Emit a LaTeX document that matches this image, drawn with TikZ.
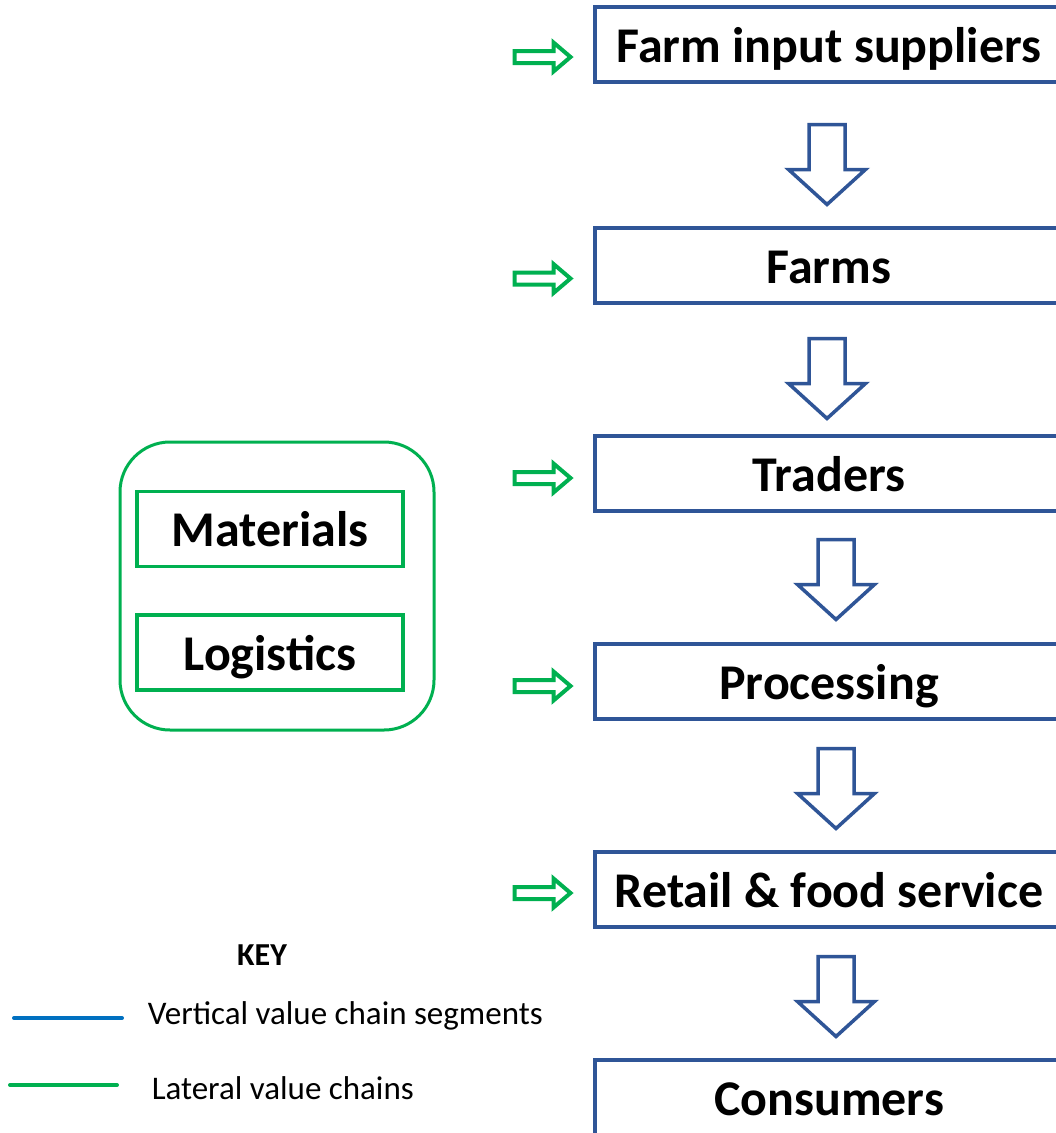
\documentclass[tikz,border=0pt]{standalone}
\usepackage{fontspec}
\setmainfont{Carlito}
\usepackage{tikz}
\definecolor{chainblue}{RGB}{47,85,151}
\definecolor{keyblue}{RGB}{0,112,192}
\definecolor{lateralgreen}{RGB}{0,176,80}

\begin{document}
\begin{tikzpicture}
            [x=1pt,y=-1pt,line width=3.5pt,
             segment/.style={draw=chainblue,minimum width=468,minimum height=75,inner sep=0,
                             text height=45,text depth=10,font=\fontsize{50}{60}\selectfont\bfseries},
             lateralbox/.style={segment,draw=lateralgreen,minimum width=266},
             keytext/.style={anchor=west,inner sep=0,font=\fontsize{33}{40}\selectfont},
             downarrow/.pic={\draw[chainblue,line width=3.5pt] (-18,0) -- (18,0) -- (18,45) -- (38.5,45)
                             -- (0,80) -- (-38.5,45) -- (-18,45) -- cycle;},
             sidearrow/.pic={\draw[lateralgreen,line width=4pt] (0,-6) -- (39,-6) -- (39,-14.5)
                             -- (56,0) -- (39,14.5) -- (39,6) -- (0,6) -- cycle;}]
            \useasboundingbox (0,0) rectangle (1056,1133);
            \clip (0,0) rectangle (1056,1133);
            \node[segment] (inputs) at (829,44.5) {Farm input suppliers};
            \node[segment] (farms) at (829,265.5) {Farms};
            \node[segment] (traders) at (829,473.5) {Traders};
            \node[segment] (processing) at (829,681.5) {Processing};
            \node[segment] (retail) at (829,889.5) {Retail \& food service};
            \node[segment] (consumers) at (829,1097.5) {Consumers};

            \pic at (827,124.5) {downarrow};
            \pic at (827,338.5) {downarrow};
            \pic at (836,539.5) {downarrow};
            \pic at (836,748.5) {downarrow};
            \pic at (836,956.5) {downarrow};

            \pic at (514.5,57) {sidearrow};
            \pic at (514.5,278.5) {sidearrow};
            \pic at (514.5,478) {sidearrow};
            \pic at (514.5,686) {sidearrow};
            \pic at (514.5,893) {sidearrow};

            \node[draw=lateralgreen,line width=3pt,rounded corners=50,minimum width=314,minimum height=288] (lateral) at (277,586) {};
            \node[lateralbox] (materials) at (270,529) {Materials};
            \node[lateralbox] (logistics) at (270,652.5) {Logistics};

            \node[inner sep=0,font=\fontsize{32}{38}\selectfont\bfseries] (key) at (262,955) {KEY};
            \coordinate (vstart) at (14,1018);
            \coordinate (vend) at (122,1018);
            \coordinate (lstart) at (10,1085);
            \coordinate (lend) at (117,1085);
            \draw[keyblue,line width=4pt,line cap=round] (vstart) -- (vend);
            \draw[lateralgreen,line width=4pt,line cap=round] (lstart) -- (lend);
            \node[keytext] (vlabel) at (146,1016) {Vertical value chain segments};
            \node[keytext] (llabel) at (150,1088) {Lateral value chains};

        \end{tikzpicture}
\end{document}
